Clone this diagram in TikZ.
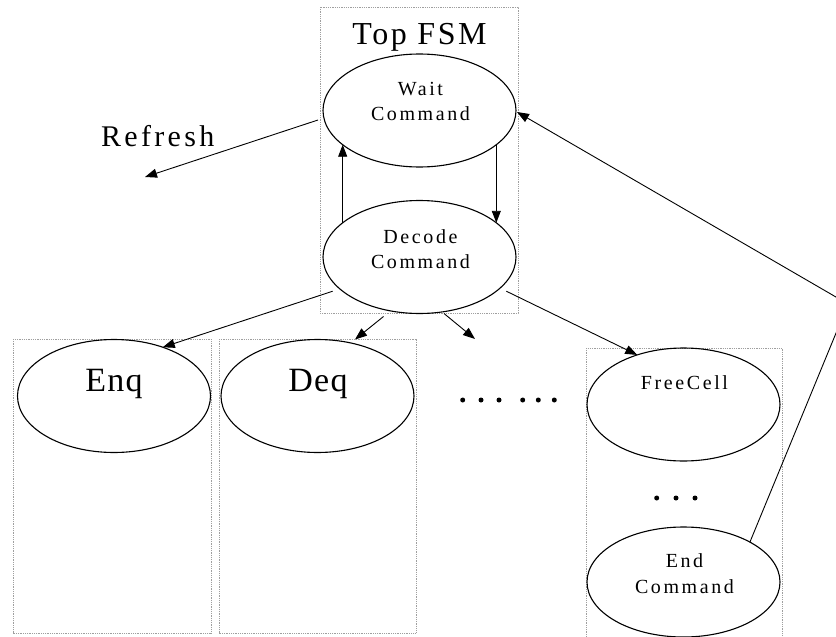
\documentclass[tikz,border=0pt]{standalone}
\usepackage{fontspec}
\setmainfont{Liberation Serif}
\newfontfamily\lsS[LetterSpace=13]{Liberation Serif}
\newfontfamily\lsT[LetterSpace=8]{Liberation Serif}
\newfontfamily\lsR[LetterSpace=11]{Liberation Serif}
\newfontfamily\lsB[LetterSpace=4]{Liberation Serif}
\usetikzlibrary{arrows.meta,shapes.geometric}
\begin{document}
\begin{tikzpicture}[x=1pt,y=-1pt,
  st/.style={draw=black,line width=1.1pt,ellipse,minimum width=193pt,minimum height=113pt,inner sep=0pt,outer sep=0pt},
  grp/.style={draw=gray!75,line width=0.9pt,dash pattern=on 1pt off 0.8pt},
  arr/.style={draw=black,line width=0.9pt,-{Triangle[length=12pt,width=9pt]}},
  ln/.style={draw=black,line width=0.9pt},
  small/.style={font=\lsS\fontsize{20}{24}\selectfont,anchor=base,inner sep=0pt},
  big/.style={font=\lsB\fontsize{34}{40}\selectfont,anchor=base,inner sep=0pt},
  dot/.style={fill=black,circle,inner sep=0pt,minimum size=5pt}]
\clip (0,0) rectangle (836,637);
\fill[white] (0,0) rectangle (836,637);
% group boxes
\draw[grp] (320,7) rectangle (518,313);
\draw[grp] (13,339) rectangle (211,633);
\draw[grp] (219,339) rectangle (416,633);
\draw[grp] (586,348) rectangle (782,645);
% states
\node[st] (wait) at (419.5,110.5) {};
\node[st] (decode) at (419.5,257) {};
\node[st] (enq) at (114,396) {};
\node[st] (deq) at (317.5,396) {};
\node[st] (free) at (683.5,404.5) {};
\node[st,minimum height=110pt] (endc) at (683.5,582) {};
% texts
\node[font=\lsT\fontsize{32}{38}\selectfont,anchor=base,inner sep=0pt] (topfsm) at (419.5,45) {Top FSM};
\node[small] (waitA) at (420.5,95) {Wait};
\node[small] (waitB) at (420.5,120) {Command};
\node[small] (decA) at (420.5,243) {Decode};
\node[small] (decB) at (420.5,268) {Command};
\node[font=\lsR\fontsize{30}{36}\selectfont,anchor=base west,inner sep=0pt] (refresh) at (101,146.7) {Refresh};
\node[big] (enqt) at (114,391.7) {Enq};
\node[big] (deqt) at (318,391.7) {Deq};
\node[small] (freet) at (684.5,389.3) {FreeCell};
\node[small] (endA) at (684.5,567.3) {End};
\node[small] (endB) at (684.5,593.3) {Command};
% dots
\foreach \x in {462.7,481,499,522.7,538.3,554.3} \node[dot] at (\x,400) {};
\foreach \x in {656.7,676,695} \node[dot] at (\x,498) {};
% connectors
\coordinate (rf) at (145,177);
\coordinate (mid) at (475,339);
\coordinate (corner) at (848,304);
\draw[arr] (decode.156) -- (wait.204);
\draw[arr] (wait.-24) -- (decode.24);
\draw[arr] ([xshift=-5pt,yshift=-9.5pt]wait.west) -- (rf);
\draw[arr] ([xshift=-10pt]decode.204) -- (enq.45.6);
\draw[arr] ([xshift=-36pt,yshift=-3pt]decode.south) -- ([xshift=37.5pt]deq.north);
\draw[arr] ([xshift=24.5pt]decode.south) -- (mid);
\draw[arr] ([xshift=10pt]decode.-24) -- (free.133.2);
\draw[arr] (endc.31) -- (corner) -- ([xshift=1pt,yshift=-1.5pt]wait.east);
\end{tikzpicture}
\end{document}
